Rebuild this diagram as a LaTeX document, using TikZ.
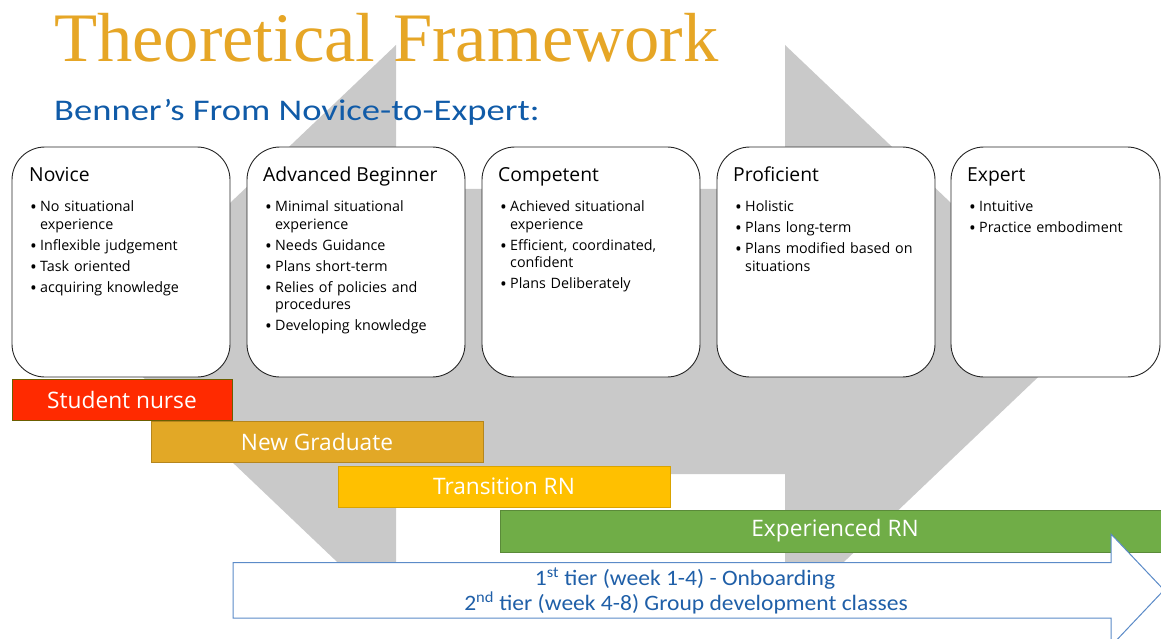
\documentclass[tikz,border=0pt]{standalone}
\usepackage{fontspec}
\setmainfont{Open Sans}
\newfontfamily\titlefont[FakeStretch=1.015]{Liberation Serif}
\newfontfamily\subfont[FakeStretch=1.22]{Carlito}
\newfontfamily\tierfont[FakeStretch=1.07]{Carlito}
\usetikzlibrary{calc}

\definecolor{bgGray}{HTML}{C9C9C9}
\definecolor{titleGold}{HTML}{E6A626}
\definecolor{subBlue}{HTML}{105BA8}
\definecolor{nurseRed}{HTML}{FF2A00}
\definecolor{gradGold}{HTML}{E2A826}
\definecolor{transYellow}{HTML}{FFC000}
\definecolor{expGreen}{HTML}{70AD47}
\definecolor{arrowBlue}{HTML}{5B8BC8}
\definecolor{tierBlue}{HTML}{1F5FA8}

% one bullet entry with a hanging indent, closed by its own \par
\newcommand{\bitem}[1]{\hangindent=10pt\hangafter=1\noindent
  \makebox[10pt][l]{\raisebox{-2pt}{\fontsize{18}{0}\selectfont\textbullet}}#1\par}
\newcommand{\listsetup}{\setlength{\parskip}{3.5pt}}

\tikzset{
  stagebox/.style={draw=black!85, line width=0.9pt, fill=white, rounded corners=33pt,
    minimum height=230pt, inner sep=0pt},
  stagehead/.style={anchor=base west, inner sep=0pt, font=\fontsize{19.3}{22}\selectfont},
  stagelist/.style={anchor=base west, inner sep=0pt, text width=205pt, align=left,
    font=\fontsize{14.3}{17.5}\selectfont},
  rolebar/.style={minimum height=41pt, inner sep=0pt, text=white, line width=0.8pt,
    font=\fontsize{22.7}{26}\selectfont},
  tierline/.style={anchor=base, inner sep=0pt, text=tierBlue, font=\tierfont\fontsize{22}{26}\selectfont},
}

\begin{document}
\begin{tikzpicture}[x=1pt, y=-1pt]
\useasboundingbox (0,0) rectangle (1161,639);
\fill[white] (0,0) rectangle (1161,639);

% double-headed grey arrow behind everything
\fill[bgGray] (396,45) -- (396,189) -- (785,189) -- (785,45) -- (1086,331.5)
  -- (785,618) -- (785,474) -- (396,474) -- (396,618) -- (95,331.5) -- cycle;

% headings
\node[anchor=base west, inner sep=0pt, text=titleGold, font=\titlefont\fontsize{69.5}{80}\selectfont]
  (title) at (54,62) {Theoretical Framework};
\node[anchor=base west, inner sep=0pt, text=subBlue, font=\subfont\fontsize{30}{36}\selectfont]
  (subtitle) at (54,121) {Benner’s From Novice-to-Expert:};

% stage boxes
\node[stagebox, minimum width=218pt] (b1) at (121,262) {};
\node[stagebox, minimum width=218pt] (b2) at (356,262) {};
\node[stagebox, minimum width=218pt] (b3) at (591,262) {};
\node[stagebox, minimum width=218pt] (b4) at (826,262) {};
\node[stagebox, minimum width=209pt] (b5) at (1055.5,262) {};

\node[stagehead] (h1) at (29,182) {Novice};
\node[stagehead] (h2) at (263,182) {Advanced Beginner};
\node[stagehead] (h3) at (498,182) {Competent};
\node[stagehead] (h4) at (733,182) {Proficient};
\node[stagehead] (h5) at (967,182) {Expert};

\node[stagelist] (l1) at (30,211.5) {\listsetup
  \bitem{No situational\newline experience}
  \bitem{Inflexible judgement}
  \bitem{Task oriented}
  \bitem{acquiring knowledge}};
\node[stagelist] (l2) at (265,211.5) {\listsetup
  \bitem{Minimal situational\newline experience}
  \bitem{Needs Guidance}
  \bitem{Plans short-term}
  \bitem{Relies of policies and\newline procedures}
  \bitem{Developing knowledge}};
\node[stagelist] (l3) at (500,211.5) {\listsetup
  \bitem{Achieved situational\newline experience}
  \bitem{Efficient, coordinated,\newline confident}
  \bitem{Plans Deliberately}};
\node[stagelist] (l4) at (735,211.5) {\listsetup
  \bitem{Holistic}
  \bitem{Plans long-term}
  \bitem{Plans modified based on\newline situations}};
\node[stagelist] (l5) at (969,211.5) {\listsetup
  \bitem{Intuitive}
  \bitem{Practice embodiment}};

% role bars
\node[rolebar, fill=nurseRed, draw=nurseRed!60!black!70!green, minimum width=220pt] (r1) at (122,399.5) {Student nurse};
\node[rolebar, fill=gradGold, draw=gradGold!80!black, minimum width=332pt] (r2) at (317,441.5) {New Graduate};
\node[rolebar, fill=transYellow, draw=transYellow!85!black, minimum width=332pt] (r3) at (504,486.5) {Transition RN};
\node[rolebar, fill=expGreen, draw=expGreen!80!black, minimum width=670pt, minimum height=42pt] (r4) at (835,531) {Experienced RN};

% onboarding arrow
\draw[arrowBlue, line width=1pt, fill=white, line join=miter]
  (233,562.5) -- (1111,562.5) -- (1111,534) -- (1164,590) -- (1111,646)
  -- (1111,618) -- (233,618) -- cycle;
\node[tierline] (t1) at (685,585) {1\textsuperscript{st} tier (week 1-4) - Onboarding};
\node[tierline] (t2) at (686,610) {2\textsuperscript{nd} tier (week 4-8) Group development classes};
\end{tikzpicture}
\end{document}
